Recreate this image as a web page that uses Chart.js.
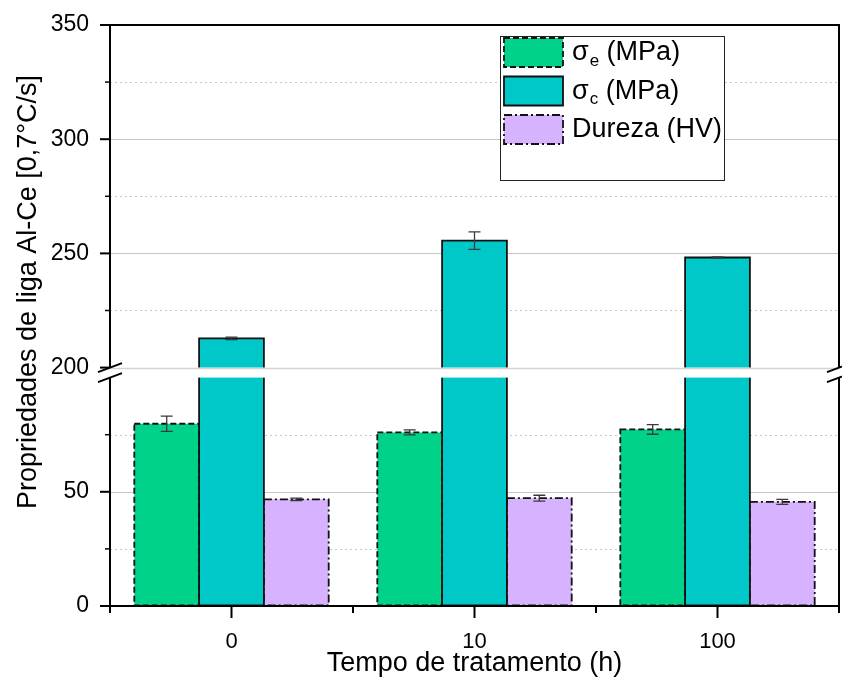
<!DOCTYPE html>
<html>
<head>
<meta charset="utf-8">
<script src="https://cdn.jsdelivr.net/npm/chart.js@4.4.0/dist/chart.umd.min.js"></script>
<style>
  html, body { margin: 0; padding: 0; background: #fff; }
</style>
</head>
<body>
<canvas id="myChart" width="842" height="697"></canvas>
<script>
// tempo de tratamento (h)
const categories = ['0', '10', '100'];
// sigma_e (MPa)
const escoamento = [79.8, 76.0, 77.3];
const erroEscoamento = [3.3, 1.1, 2.1];
// sigma_c (MPa)
const compressao = [212.8, 255.6, 248.2];
const erroCompressao = [0.5, 3.8, 0.3];
// Dureza (HV)
const dureza = [46.7, 47.2, 45.6];
const erroDureza = [0.5, 1.3, 1.1];

const yTicks = [0, 25, 50, 75, 200, 225, 250, 275, 300, 325, 350];
const yTitle = 'Propriedades de liga Al-Ce [0,7°C/s]';

// broken axis: 0-100 below, 200-350 above, small gap between
const LOW_TOP = 100, HIGH_BOTTOM = 200, HIGH_TOP = 350, GAP = 4.38;
let toDisp = v => v <= LOW_TOP ? v : v - HIGH_BOTTOM + LOW_TOP + GAP;
let fromDisp = d => d <= LOW_TOP ? d : d - LOW_TOP - GAP + HIGH_BOTTOM;

const FONT = '"Liberation Sans", Arial, sans-serif';

const breakPlugin = {
    id: 'breakPlugin',
    beforeDatasetsDraw(chart) {
        const ctx = chart.ctx, a = chart.chartArea, y = chart.scales.y;
        ctx.save();
        yTicks.forEach(v => {
            if (v === 0 || v === HIGH_TOP || v === HIGH_BOTTOM) return;
            const py = Math.round(y.getPixelForValue(toDisp(v))) + 0.5;
            ctx.beginPath();
            ctx.lineWidth = 1;
            if (v % 50 === 0) {
                ctx.strokeStyle = '#c6c6c6';
                ctx.setLineDash([]);
            } else {
                ctx.strokeStyle = '#c8c8c8';
                ctx.setLineDash([2, 3]);
            }
            ctx.moveTo(a.left, py);
            ctx.lineTo(a.right, py);
            ctx.stroke();
        });
        ctx.restore();
    },
    afterDatasetsDraw(chart) {
        const ctx = chart.ctx, a = chart.chartArea, y = chart.scales.y, x = chart.scales.x;
        ctx.save();

        // bar outlines (dashed / solid / dash-dot)
        chart.data.datasets.forEach((ds, i) => {
            chart.getDatasetMeta(i).data.forEach(bar => {
                const p = bar.getProps(['x', 'y', 'base', 'width'], true);
                ctx.beginPath();
                ctx.lineWidth = 1.8;
                ctx.strokeStyle = '#111';
                ctx.setLineDash(ds.dash);
                ctx.rect(p.x - p.width / 2, p.y, p.width, p.base - p.y);
                ctx.stroke();
            });
        });
        ctx.setLineDash([]);

        // white band at the break
        const pHigh = y.getPixelForValue(toDisp(HIGH_BOTTOM));
        const pLow = y.getPixelForValue(LOW_TOP);
        ctx.fillStyle = '#fff';
        ctx.fillRect(a.left, pHigh, a.right - a.left, pLow - pHigh);
        ctx.beginPath();
        ctx.strokeStyle = '#d4d4d4';
        ctx.lineWidth = 1.5;
        ctx.moveTo(a.left, Math.round(pHigh) + 0.5);
        ctx.lineTo(a.right, Math.round(pHigh) + 0.5);
        ctx.stroke();

        // error bars
        chart.data.datasets.forEach((ds, i) => {
            chart.getDatasetMeta(i).data.forEach((bar, j) => {
                const v = ds.raw[j], e = ds.err[j];
                const bx = bar.x;
                const t = y.getPixelForValue(toDisp(v + e));
                const b = y.getPixelForValue(toDisp(v - e));
                ctx.beginPath();
                ctx.strokeStyle = '#3a3a3a';
                ctx.lineWidth = 1.3;
                ctx.moveTo(bx, t); ctx.lineTo(bx, b);
                ctx.moveTo(bx - 6, t); ctx.lineTo(bx + 6, t);
                ctx.moveTo(bx - 6, b); ctx.lineTo(bx + 6, b);
                ctx.stroke();
            });
        });

        // frame and axes
        ctx.strokeStyle = '#000';
        ctx.lineWidth = 2;
        ctx.beginPath();
        ctx.moveTo(a.left - 1, a.top); ctx.lineTo(a.right + 1, a.top);
        ctx.moveTo(a.left - 1, a.bottom); ctx.lineTo(a.right + 1, a.bottom);
        [a.left, a.right].forEach(px => {
            ctx.moveTo(px, a.top); ctx.lineTo(px, pHigh);
            ctx.moveTo(px, pLow); ctx.lineTo(px, a.bottom);
        });
        ctx.stroke();

        // break marks
        ctx.beginPath();
        [a.left, a.right].forEach(px => {
            [pHigh, pLow].forEach(py => {
                ctx.moveTo(px - 12, py + 4.5);
                ctx.lineTo(px + 12, py - 4.5);
            });
        });
        ctx.stroke();

        // y tick marks
        yTicks.forEach(v => {
            const py = y.getPixelForValue(toDisp(v));
            const major = v % 50 === 0;
            ctx.beginPath();
            ctx.lineWidth = major ? 2 : 1.5;
            ctx.moveTo(a.left - (major ? 10 : 5), py);
            ctx.lineTo(a.left, py);
            ctx.stroke();
        });

        // x tick marks
        const w = (a.right - a.left) / categories.length;
        ctx.lineWidth = 2;
        categories.forEach((c, i) => {
            const cx = x.getPixelForValue(i);
            ctx.beginPath();
            ctx.moveTo(cx, a.bottom); ctx.lineTo(cx, a.bottom + 12);
            ctx.stroke();
        });
        for (let i = 0; i <= categories.length; i++) {
            const bx = a.left + i * w;
            ctx.beginPath();
            ctx.moveTo(bx, a.bottom); ctx.lineTo(bx, a.bottom + 7);
            ctx.stroke();
        }
        ctx.restore();
    },
    afterDraw(chart) {
        const ctx = chart.ctx;
        ctx.save();

        // y axis title (sits a bit above the axis centre, as in the original)
        ctx.save();
        ctx.translate(29, 292);
        ctx.rotate(-Math.PI / 2);
        ctx.fillStyle = '#000';
        ctx.font = '27px ' + FONT;
        ctx.textAlign = 'center';
        ctx.textBaseline = 'middle';
        ctx.fillText(yTitle, 0, 0);
        ctx.restore();

        // legend box
        ctx.fillStyle = '#fff';
        ctx.fillRect(500, 36, 224, 144);
        ctx.strokeStyle = '#222';
        ctx.lineWidth = 1;
        ctx.strokeRect(500.5, 36.5, 224, 144);

        const labels = [['\u03c3', 'e', ' (MPa)'], ['\u03c3', 'c', ' (MPa)'], ['Dureza (HV)', '', '']];
        chart.data.datasets.forEach((ds, i) => {
            const sy = 38 + i * 38.5;
            ctx.fillStyle = ds.backgroundColor;
            ctx.fillRect(504, sy, 59, 29);
            ctx.beginPath();
            ctx.setLineDash(ds.dash);
            ctx.strokeStyle = '#111';
            ctx.lineWidth = 1.8;
            ctx.rect(504, sy, 59, 29);
            ctx.stroke();
            ctx.setLineDash([]);

            const ty = sy + 15;
            let tx = 572;
            ctx.fillStyle = '#000';
            ctx.textAlign = 'left';
            ctx.textBaseline = 'middle';
            ctx.font = '27px ' + FONT;
            ctx.fillText(labels[i][0], tx, ty);
            tx += ctx.measureText(labels[i][0]).width;
            if (labels[i][1]) {
                ctx.font = '17px ' + FONT;
                ctx.fillText(labels[i][1], tx + 1, ty + 8);
                tx += ctx.measureText(labels[i][1]).width + 1;
                ctx.font = '27px ' + FONT;
                ctx.fillText(labels[i][2], tx, ty);
            }
        });
        ctx.restore();
    }
};

var ctx = document.getElementById('myChart').getContext('2d');
var chart = new Chart(ctx, {
    type: 'bar',
    data: {
        labels: categories,
        datasets: [{
            label: 'σe (MPa)',
            backgroundColor: '#00d28a',
            borderWidth: 0,
            dash: [6, 3],
            raw: escoamento,
            err: erroEscoamento,
            data: escoamento.map(toDisp)
        }, {
            label: 'σc (MPa)',
            backgroundColor: '#00c8c8',
            borderWidth: 0,
            dash: [],
            raw: compressao,
            err: erroCompressao,
            data: compressao.map(toDisp)
        }, {
            label: 'Dureza (HV)',
            backgroundColor: '#d7b2ff',
            borderWidth: 0,
            dash: [8, 3, 2, 3],
            raw: dureza,
            err: erroDureza,
            data: dureza.map(toDisp)
        }]
    },
    options: {
        responsive: false,
        animation: false,
        devicePixelRatio: 1,
        layout: { padding: { top: 25, right: 3, left: 0, bottom: 0 } },
        categoryPercentage: 0.8,
        barPercentage: 1.0,
        plugins: { legend: { display: false }, tooltip: { enabled: false } },
        scales: {
            x: {
                afterFit: s => { s.height = 91; },
                grid: { drawOnChartArea: false, tickLength: 12, tickColor: 'rgba(0,0,0,0)' },
                border: { display: false },
                ticks: { color: '#000', font: { family: FONT, size: 22 }, padding: 11 },
                title: {
                    display: true,
                    text: 'Tempo de tratamento (h)',
                    color: '#000',
                    font: { family: FONT, size: 27 },
                    padding: { top: 0, bottom: 17 }
                }
            },
            y: {
                min: 0,
                max: toDisp(HIGH_TOP),
                afterFit: s => { s.width = 110; },
                afterBuildTicks: s => { s.ticks = yTicks.map(v => ({ value: toDisp(v) })); },
                grid: { drawOnChartArea: false, tickLength: 10, tickColor: 'rgba(0,0,0,0)' },
                border: { display: false },
                ticks: {
                    autoSkip: false,
                    color: '#000',
                    font: { family: FONT, size: 23 },
                    padding: 11,
                    callback: val => {
                        const r = Math.round(fromDisp(val));
                        return r % 50 === 0 ? String(r) : '';
                    }
                },
                title: { display: false }
            }
        }
    },
    plugins: [breakPlugin]
});
</script>
</body>
</html>
